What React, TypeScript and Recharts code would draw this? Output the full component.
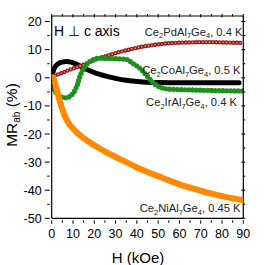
import React from "react";
import { LineChart, Line, XAxis, YAxis } from "recharts";

// field (kOe) and MR_ab (%)
const pdH = [0, 2.5, 5, 7.5, 10, 12.5, 15, 17.5, 20, 25, 30, 35, 40, 45, 50, 55, 60, 65, 70, 75, 80, 85, 90];
const pdMR = [0.3, 1.1, 1.8, 2.6, 3.3, 4.0, 4.7, 5.5, 6.3, 7.6, 8.8, 9.8, 10.7, 11.4, 11.9, 12.3, 12.5, 12.6, 12.7, 12.7, 12.6, 12.5, 12.4];

const coH = [0, 0.5, 1, 2, 3, 4, 5, 7, 9, 12, 15, 18, 21, 25, 30, 35, 40, 45, 50, 60, 70, 80, 88];
const coMR = [0.5, 1.8, 3, 4.3, 5, 5.4, 5.6, 5.8, 5.6, 4.7, 3.5, 2.5, 1.6, 0.7, -0.2, -0.9, -1.3, -1.6, -1.7, -1.8, -1.8, -1.8, -1.8];

const irH = [0, 1, 2, 3, 4.5, 6, 7.5, 9, 10.5, 12, 13.5, 15, 17, 20, 22, 25, 30, 35, 38, 40, 42, 44, 46, 48, 50, 53, 57, 65, 75, 90];
const irMR = [-3, -4, -5.3, -6.2, -6.8, -7.1, -7, -6.3, -5, -2.5, 1, 3.4, 5.2, 6.6, 7.0, 6.9, 6.8, 6.6, 5.2, 4.2, 3.0, 1.4, -0.4, -2.0, -3.0, -3.8, -4.1, -4.3, -4.5, -4.7];

const niH = [0.5, 1.5, 2.5, 3.5, 4.5, 6, 8, 10, 12.5, 15, 20, 25, 30, 35, 40, 45, 50, 55, 60, 65, 70, 75, 80, 85, 90];
const niMR = [0.3, -1.8, -4.5, -7.5, -10, -13.3, -16.2, -18, -19.9, -21.5, -24, -26.2, -28.2, -30, -31.9, -33.5, -35, -36.5, -37.9, -39.1, -40.2, -41.2, -42.1, -42.9, -43.6];

const xTicks = [0, 5, 10, 15, 20, 25, 30, 35, 40, 45, 50, 55, 60, 65, 70, 75, 80, 85, 90];
const yTicks = [-50, -45, -40, -35, -30, -25, -20, -15, -10, -5, 0, 5, 10, 15, 20];

const toRows = (hs: number[], mrs: number[]) => hs.map((h, i) => ({ h, mr: mrs[i] }));
const pdData = toRows(pdH, pdMR);
const coData = toRows(coH, coMR);
const irData = toRows(irH, irMR);
const niData = toRows(niH, niMR);

const FONT = "'Liberation Sans', Arial, Helvetica, sans-serif";

const BottomTick = (props: any) => {
  const { x, y, payload } = props;
  const major = payload.value % 10 === 0;
  return (
    <g>
      <line x1={x} y1={y} x2={x} y2={y + (major ? 3.5 : 2.5)} stroke="#000" strokeWidth={1} />
      {major && (
        <text x={x} y={y + 18} textAnchor="middle" fontSize={12.5} fontFamily={FONT} fill="#000">
          {payload.value}
        </text>
      )}
    </g>
  );
};

const TopTick = (props: any) => {
  const { x, y, payload } = props;
  const major = payload.value % 10 === 0;
  return <line x1={x} y1={y} x2={x} y2={y + (major ? 3.5 : 2.5)} stroke="#000" strokeWidth={1} />;
};

const LeftTick = (props: any) => {
  const { x, y, payload } = props;
  const major = payload.value % 10 === 0;
  return (
    <g>
      <line x1={x} y1={y} x2={x - (major ? 5 : 2.5)} y2={y} stroke="#000" strokeWidth={1} />
      {major && (
        <text x={x - 8} y={y + 4.5} textAnchor="end" fontSize={12.5} fontFamily={FONT} fill="#000">
          {payload.value}
        </text>
      )}
    </g>
  );
};

const RightTick = (props: any) => {
  const { x, y, payload } = props;
  const major = payload.value % 10 === 0;
  return <line x1={x} y1={y} x2={x - (major ? 4 : 2.5)} y2={y} stroke="#000" strokeWidth={1} />;
};

// compound label, right aligned, with subscripted stoichiometry
const Compound = ({ x, y, metal, temp }: { x: number; y: number; metal: string; temp: string }) => (
  <text x={x} y={y} textAnchor="end" fontSize={11.2} fontFamily={FONT} fill="#222">
    Ce<tspan fontSize={7.5} dy={2.5}>2</tspan>
    <tspan dy={-2.5}>{metal}Al</tspan>
    <tspan fontSize={7.5} dy={2.5}>7</tspan>
    <tspan dy={-2.5}>Ge</tspan>
    <tspan fontSize={7.5} dy={2.5}>4</tspan>
    <tspan dy={-2.5}>{", " + temp}</tspan>
  </text>
);

const App: React.FC = () => {
  return (
    <div style={{ position: "fixed", left: 0, top: 0, width: 265, height: 265, background: "#fff" }}>
      <LineChart width={265} height={265} margin={{ top: 10, right: 11.7, bottom: 16.7, left: 11.7 }}>
        <XAxis
          dataKey="h"
          type="number"
          domain={[0, 90]}
          allowDataOverflow
          ticks={xTicks}
          interval={0}
          height={30}
          tickSize={0}
          tickLine={false}
          axisLine={{ stroke: "#000", strokeWidth: 1.2 }}
          tick={(p: any) => <BottomTick {...p} />}
        />
        <XAxis
          xAxisId="top"
          orientation="top"
          dataKey="h"
          type="number"
          domain={[0, 90]}
          allowDataOverflow
          ticks={xTicks}
          interval={0}
          height={6}
          tickSize={0}
          tickLine={false}
          axisLine={{ stroke: "#000", strokeWidth: 1.2 }}
          tick={(p: any) => <TopTick {...p} />}
        />
        <YAxis
          type="number"
          domain={[-50, 22]}
          allowDataOverflow
          ticks={yTicks}
          interval={0}
          width={40}
          tickSize={0}
          tickLine={false}
          axisLine={{ stroke: "#000", strokeWidth: 1.2 }}
          tick={(p: any) => <LeftTick {...p} />}
        />
        <YAxis
          yAxisId="right"
          orientation="right"
          type="number"
          domain={[-50, 22]}
          allowDataOverflow
          ticks={yTicks}
          interval={0}
          width={10}
          tickSize={0}
          tickLine={false}
          axisLine={{ stroke: "#000", strokeWidth: 1.2 }}
          tick={(p: any) => <RightTick {...p} />}
        />
        <Line data={coData} dataKey="mr" type="monotone" stroke="#000" strokeWidth={5} strokeLinecap="round" dot={false} isAnimationActive={false} />
        <Line data={pdData} dataKey="mr" type="monotone" stroke="#9c1a1a" strokeWidth={4.4} strokeLinecap="round" strokeDasharray="0 3.4" dot={false} isAnimationActive={false} />
        <Line data={pdData} dataKey="mr" type="monotone" stroke="#e6a8a8" strokeWidth={1.6} strokeLinecap="round" strokeDasharray="0 3.4" dot={false} isAnimationActive={false} />
        <Line data={irData} dataKey="mr" type="monotone" stroke="#1f8f1f" strokeWidth={2.2} dot={false} isAnimationActive={false} />
        <Line data={irData} dataKey="mr" type="monotone" stroke="#1f8f1f" strokeWidth={5.2} strokeLinecap="round" strokeDasharray="0 3.8" dot={false} isAnimationActive={false} />
        <Line data={niData} dataKey="mr" type="monotone" stroke="#ff8a00" strokeWidth={6} dot={{ r: 2.8, fill: "#ff8a00", stroke: "none" }} isAnimationActive={false} />
      </LineChart>
      <svg width={265} height={265} style={{ position: "absolute", left: 0, top: 0, pointerEvents: "none" }}>
        <text x={54} y={36} fontSize={14} fontFamily={FONT} fill="#000">H ⊥ c axis</text>
        <Compound x={242.5} y={35.5} metal="Pd" temp="0.4 K" />
        <Compound x={240.5} y={74} metal="Co" temp="0.5 K" />
        <Compound x={237} y={106} metal="Ir" temp="0.4 K" />
        <Compound x={240.5} y={212} metal="Ni" temp="0.45 K" />
        <text x={138} y={263.3} textAnchor="middle" fontSize={15} fontFamily={FONT} fill="#000">H (kOe)</text>
        <text transform="rotate(-90)" x={-115} y={16.5} textAnchor="middle" fontSize={15.5} fontFamily={FONT} fill="#000">
          MR<tspan fontSize={10} dy={3}>ab</tspan>
          <tspan dy={-3}> (%)</tspan>
        </text>
      </svg>
    </div>
  );
};

export default App;
